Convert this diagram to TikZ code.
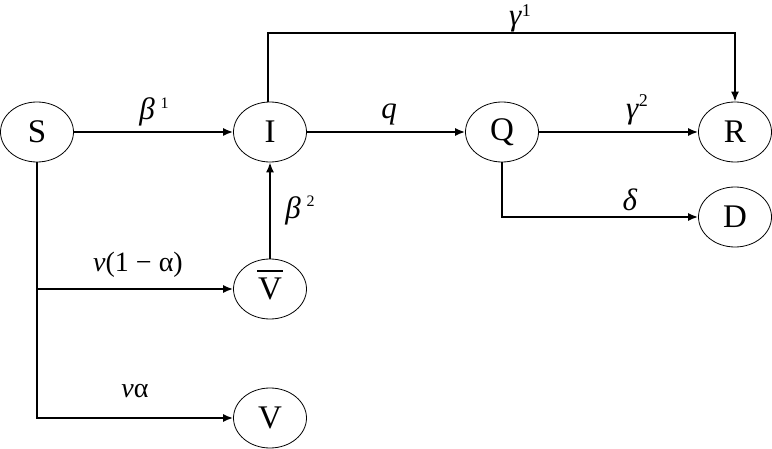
\documentclass[tikz,border=0pt]{standalone}
\usepackage{fontspec}
\setmainfont{Liberation Serif}
\usetikzlibrary{shapes.geometric,arrows.meta}
\begin{document}
\begin{tikzpicture}[x=1pt,y=-1pt,
  comp/.style={ellipse,draw,line width=0.8pt,minimum width=73pt,minimum height=60pt,inner sep=0pt,
     font=\fontsize{33}{33}\selectfont},
  flow/.style={line width=1.6pt,-{Latex[length=10pt,width=8pt]}},
  lab/.style={font=\fontsize{31}{31}\selectfont,inner sep=0pt},
  labv/.style={font=\fontsize{28}{28}\selectfont,inner sep=0pt}]
\useasboundingbox (0,0) rectangle (772,449);
\node[comp] (S) at (37,132) {S};
\node[comp] (I) at (270,132) {I};
\node[comp] (Q) at (502,132) {Q};
\node[comp] (R) at (735,132) {R};
\node[comp] (D) at (735,217) {D};
\node[comp] (Vb) at (270,289) {\raisebox{-4pt}{\ooalign{V\cr\hidewidth\raisebox{28pt}{\rule{26pt}{1.6pt}}\hidewidth\cr}}};
\node[comp] (V) at (270,418) {V};
\coordinate (top) at (268,33);
\draw[flow] (S) -- (I);
\draw[flow] (I) -- (Q);
\draw[flow] (Q) -- (R);
\draw[flow] (Vb) -- (I);
\draw[flow] (I.north -| top) |- (top) -| (R.north);
\draw[flow] (S.south) |- (V.west);
\draw[flow] (S.south |- Vb.west) -- (Vb.west);
\draw[flow] (Q.south) |- (D.west);
\node[lab] (l1) at (154,112) {\textit{β}\hspace{6pt}\raisebox{11pt}{\fontsize{16}{16}\selectfont 1}};
\node[lab] (l2) at (300,211) {\textit{β}\hspace{6pt}\raisebox{12pt}{\fontsize{16}{16}\selectfont 2}};
\node[lab] (l3) at (389,114) {\textit{q}};
\node[lab] (l4) at (520,18) {\textit{γ}\raisebox{9pt}{\fontsize{18}{18}\selectfont 1}};
\node[lab] (l5) at (637,110) {\textit{γ}\raisebox{12pt}{\fontsize{18}{18}\selectfont 2}};
\node[lab] (l6) at (630,200) {\textit{δ}};
\node[labv] (l7) at (138,265) {\textit{v}(1 − α)};
\node[labv] (l8) at (135,391) {\textit{v}α};
\end{tikzpicture}
\end{document}
